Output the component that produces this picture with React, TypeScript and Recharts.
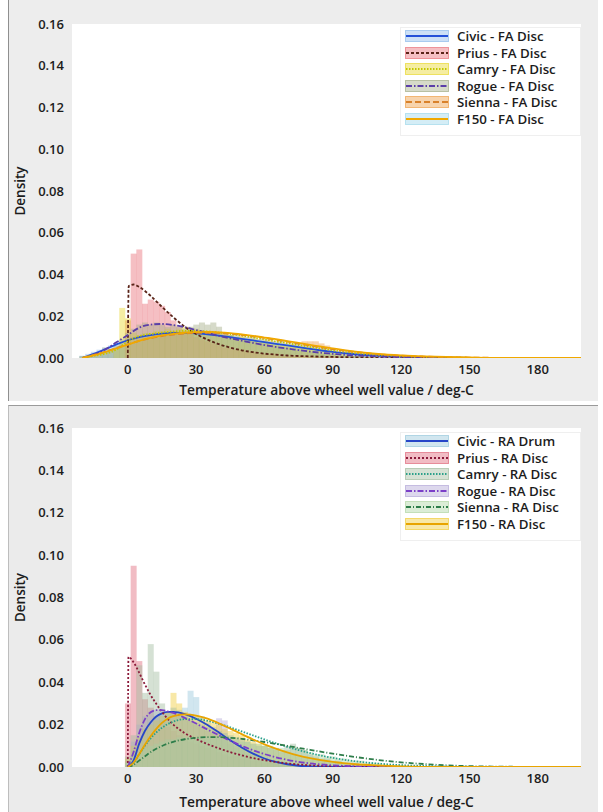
import React from 'react';
import { ComposedChart, Bar, Line, XAxis, YAxis, CartesianGrid, Legend, Label } from 'recharts';

// ---------- axes ----------
const X_DOMAIN: [number, number] = [-24.5, 199];
const X_TICKS = [0, 30, 60, 90, 120, 150, 180];
const Y_TICKS = [0, 0.02, 0.04, 0.06, 0.08, 0.1, 0.12, 0.14, 0.16];
const X_TITLE = 'Temperature above wheel well value / deg-C';
const Y_TITLE = 'Density';
const BIN_WIDTH = 2.5;
const GRID_START = -20;
const GRID_END = 200;

// ---------- FA (front axle) panel ----------
const faNames = ['Civic - FA Disc', 'Prius - FA Disc', 'Camry - FA Disc', 'Rogue - FA Disc', 'Sienna - FA Disc', 'F150 - FA Disc'];
const faHistStart = [-20, -20, -20, -20, -20, -20];

const faCivicHist = [
  0.001, 0.002, 0.003, 0.004, 0.005, 0.006, 0.007, 0.007,
  0.009, 0.010, 0.010, 0.011, 0.011, 0.012, 0.012, 0.012,
  0.013, 0.012, 0.012, 0.013, 0.012, 0.012, 0.011, 0.012,
  0.011, 0.010, 0.010, 0.010, 0.009, 0.009, 0.008, 0.008,
  0.008, 0.007, 0.007, 0.006, 0.006, 0.006, 0.005, 0.005,
  0.005, 0.004, 0.004, 0.003, 0.003, 0.002, 0.002, 0.002,
  0.002, 0.001, 0.001, 0.001, 0.001, 0.001, 0.0005, 0.0005, 0.0005,
];
const faPriusHist = [
  0, 0, 0, 0, 0, 0, 0, 0,
  0.018, 0.050, 0.052, 0.026, 0.028, 0.027, 0.025, 0.022,
  0.018, 0.015, 0.013, 0.011, 0.010, 0.009, 0.008, 0.007,
  0.006, 0.005, 0.005, 0.004, 0.004, 0.003, 0.003, 0.002,
  0.002, 0.002, 0.002, 0.001, 0.001, 0.001, 0.001, 0.001,
  0.0005, 0.0005, 0.0005, 0.0005, 0.0005,
];
const faCamryHist = [
  0, 0, 0, 0, 0, 0, 0.004, 0.024,
  0.019, 0.012, 0.011, 0.012, 0.012, 0.013, 0.013, 0.014,
  0.013, 0.014, 0.015, 0.014, 0.014, 0.013, 0.013, 0.012,
  0.012, 0.011, 0.011, 0.010, 0.010, 0.009, 0.009, 0.008,
  0.008, 0.007, 0.007, 0.006, 0.006, 0.006, 0.005, 0.005,
  0.005, 0.004, 0.004, 0.003, 0.003, 0.002, 0.002, 0.001,
  0.001, 0.001, 0.0005, 0.0005,
];
const faRogueHist = [
  0.001, 0.001, 0.002, 0.003, 0.005, 0.004, 0.006, 0.009,
  0.012, 0.014, 0.016, 0.017, 0.016, 0.017, 0.016, 0.015,
  0.016, 0.015, 0.014, 0.015, 0.016, 0.017, 0.016, 0.017,
  0.015, 0.012, 0.011, 0.010, 0.009, 0.008, 0.008, 0.007,
  0.007, 0.006, 0.006, 0.005, 0.005, 0.004, 0.004, 0.004,
  0.003, 0.003, 0.002, 0.002, 0.002, 0.001, 0.001, 0.001,
  0.001, 0.0005, 0.0005,
];
const faSiennaHist = [
  0.0005, 0.001, 0.001, 0.002, 0.003, 0.003, 0.004, 0.005,
  0.006, 0.007, 0.008, 0.009, 0.009, 0.010, 0.010, 0.011,
  0.011, 0.012, 0.012, 0.012, 0.013, 0.012, 0.012, 0.013,
  0.012, 0.012, 0.011, 0.011, 0.011, 0.010, 0.010, 0.009,
  0.009, 0.009, 0.008, 0.008, 0.007, 0.007, 0.007, 0.008,
  0.008, 0.008, 0.007, 0.006, 0.004, 0.003, 0.003, 0.003,
  0.002, 0.002, 0.002, 0.002, 0.002, 0.001, 0.001, 0.001,
  0.001, 0.001, 0.001, 0.0008, 0.0008, 0.0006, 0.0005, 0.0005,
];
const faF150Hist = [
  0.001, 0.001, 0.002, 0.002, 0.003, 0.004, 0.005, 0.006,
  0.007, 0.008, 0.009, 0.010, 0.010, 0.011, 0.011, 0.012,
  0.012, 0.012, 0.013, 0.013, 0.013, 0.013, 0.012, 0.012,
  0.012, 0.011, 0.011, 0.011, 0.010, 0.010, 0.010, 0.009,
  0.009, 0.008, 0.008, 0.008, 0.007, 0.007, 0.007, 0.006,
  0.006, 0.005, 0.005, 0.004, 0.004, 0.003, 0.003, 0.003,
  0.002, 0.002, 0.002, 0.002, 0.001, 0.001, 0.001, 0.001,
  0.001, 0.001, 0.0008, 0.0008, 0.0006, 0.0005, 0.0005, 0.0005,
];

const faKdeX = [
  -20, -15, -10, -5,
  0, 5, 10, 15, 20, 25, 30, 35, 40, 45, 50, 55, 60, 65, 70, 75, 80, 85, 90, 95, 100,
  110, 120, 130, 140, 150, 160, 170, 180, 190,
  199,
];
const faCivicKde = [
  0, 0.002, 0.0042, 0.0065,
  0.0085, 0.0100, 0.0110, 0.0117, 0.0120, 0.0120, 0.0118, 0.0113, 0.0107, 0.0100, 0.0092, 0.0084, 0.0076, 0.0068, 0.0060, 0.0052, 0.0044, 0.0036, 0.0029, 0.0023, 0.0018,
  0.0011, 0.0007, 0.0004, 0.0002, 0.0001, 0, 0, 0, 0,
  0,
];
const faCamryKde = [
  0, 0.001, 0.002, 0.004,
  0.008, 0.0105, 0.0115, 0.0122, 0.0127, 0.013, 0.013, 0.0127, 0.0122, 0.0115, 0.0107, 0.0098, 0.0089, 0.008, 0.0071, 0.0062, 0.0053, 0.0045, 0.0037, 0.003, 0.0024,
  0.0014, 0.0008, 0.0004, 0.0002, 0.0001, 0, 0, 0, 0,
  0,
];
const faRogueKde = [
  0, 0.0015, 0.004, 0.0075,
  0.011, 0.0145, 0.016, 0.0163, 0.0158, 0.0148, 0.0134, 0.012, 0.0106, 0.0094, 0.0083, 0.0072, 0.0062, 0.0053, 0.0045, 0.0038, 0.0031, 0.0025, 0.002, 0.0015, 0.0012,
  0.0007, 0.0004, 0.0002, 0.0001, 0, 0, 0, 0, 0,
  0,
];
const faSiennaKde = [
  0, 0.0015, 0.003, 0.0048,
  0.0065, 0.0082, 0.0095, 0.0105, 0.0112, 0.0117, 0.012, 0.0121, 0.012, 0.0116, 0.0111, 0.0104, 0.0096, 0.0087, 0.0078, 0.0069, 0.006, 0.0051, 0.0043, 0.0035, 0.0029,
  0.0018, 0.0011, 0.0007, 0.0004, 0.0002, 0.0001, 0, 0, 0,
  0,
];
const faF150Kde = [
  0, 0.0012, 0.0028, 0.0046,
  0.0064, 0.0082, 0.0097, 0.0108, 0.0116, 0.0121, 0.0124, 0.0125, 0.0123, 0.0119, 0.0113, 0.0106, 0.0098, 0.009, 0.0081, 0.0072, 0.0063, 0.0054, 0.0046, 0.0038, 0.0031,
  0.002, 0.0013, 0.0008, 0.0005, 0.0003, 0.0001, 0.0001, 0, 0,
  0,
];
const faPriusKdeX = [0, 0.4, 2.5, 5, 10, 15, 20, 25, 30, 35, 40, 45, 50, 55, 60, 65, 70, 80, 90, 100, 110, 120, 130, 140, 150, 175, 199];
const faPriusKde = [0, 0.0345, 0.0352, 0.034, 0.0298, 0.0245, 0.0195, 0.015, 0.0115, 0.0088, 0.0066, 0.005, 0.0037, 0.0028, 0.0021, 0.0016, 0.0012, 0.0008, 0.0005, 0.0003, 0.0002, 0.0001, 0, 0, 0, 0, 0];

const faLineColors = ['#2350d8', '#5a2418', '#c3c800', '#5b3ea8', '#d9822b', '#f0a800'];
const faFillColors = ['#8fbbea', '#e8727a', '#e8d830', '#a3ad88', '#eea04a', '#9fd8ea'];
const faDashes = ['', '3 2', '1.5 1.5', '6 2 1.5 2', '6 3', ''];
const faBarOrder = [4, 0, 5, 1, 2, 3];

// ---------- RA (rear axle) panel ----------
const raNames = ['Civic - RA Drum', 'Prius - RA Disc', 'Camry - RA Disc', 'Rogue - RA Disc', 'Sienna - RA Disc', 'F150 - RA Disc'];
const raHistStart = [0, 0, 0, 0, 0, 0];

const raCivicHist = [
  0.002, 0.008, 0.014, 0.018, 0.022, 0.024, 0.025, 0.026,
  0.026, 0.027, 0.028, 0.036, 0.033, 0.024, 0.021, 0.019,
  0.016, 0.013, 0.011, 0.009, 0.008, 0.006, 0.005, 0.004,
  0.003, 0.002, 0.002, 0.001, 0.001, 0.0005, 0.0005,
];
const raPriusHist = [
  0.030, 0.095, 0.050, 0.032, 0.028, 0.024, 0.022, 0.019,
  0.017, 0.015, 0.013, 0.012, 0.011, 0.010, 0.009, 0.008,
  0.007, 0.006, 0.005, 0.005, 0.004, 0.004, 0.003, 0.003,
  0.002, 0.002, 0.002, 0.001, 0.001, 0.001, 0.0005, 0.0005,
];
const raCamryHist = [
  0.005, 0.015, 0.048, 0.035, 0.058, 0.045, 0.030, 0.026,
  0.028, 0.026, 0.024, 0.022, 0.021, 0.020, 0.019, 0.018,
  0.017, 0.016, 0.015, 0.014, 0.013, 0.012, 0.011, 0.010,
  0.010, 0.009, 0.009, 0.008, 0.010, 0.011, 0.009, 0.008,
  0.006, 0.005, 0.004, 0.004, 0.003, 0.003, 0.002, 0.002,
  0.002, 0.001, 0.001, 0.001, 0.0005,
];
const raRogueHist = [
  0.003, 0.012, 0.020, 0.024, 0.026, 0.027, 0.027, 0.026,
  0.025, 0.024, 0.023, 0.022, 0.020, 0.019, 0.017, 0.016,
  0.023, 0.022, 0.012, 0.010, 0.009, 0.007, 0.006, 0.005,
  0.004, 0.003, 0.003, 0.002, 0.002, 0.001, 0.001, 0.0005,
];
const raSiennaHist = [
  0.002, 0.005, 0.007, 0.009, 0.010, 0.011, 0.012, 0.013,
  0.013, 0.014, 0.014, 0.014, 0.014, 0.014, 0.014, 0.014,
  0.014, 0.013, 0.013, 0.013, 0.012, 0.012, 0.011, 0.011,
  0.010, 0.010, 0.009, 0.009, 0.008, 0.010, 0.009, 0.008,
  0.007, 0.006, 0.006, 0.005, 0.005, 0.004, 0.004, 0.003,
  0.003, 0.003, 0.002, 0.002, 0.002, 0.001, 0.001, 0.001, 0.001,
];
const raF150Hist = [
  0.004, 0.010, 0.014, 0.018, 0.020, 0.022, 0.024, 0.026,
  0.035, 0.030, 0.026, 0.025, 0.024, 0.023, 0.022, 0.021,
  0.020, 0.018, 0.017, 0.016, 0.015, 0.013, 0.012, 0.011,
  0.010, 0.009, 0.008, 0.007, 0.007, 0.006, 0.005, 0.005,
  0.004, 0.004, 0.003, 0.003, 0.002, 0.002, 0.002, 0.001, 0.001,
];

const raKdeX = [
  0, 2.5, 5, 7.5, 10, 12.5, 15, 17.5, 20,
  25, 30, 35, 40, 45, 50, 55, 60, 65, 70, 75, 80,
  90, 100, 110, 120, 130, 140, 150, 160, 170, 180, 190, 199,
];
const raCivicKde = [
  0, 0.003, 0.011, 0.017, 0.021, 0.0238, 0.0253, 0.026, 0.026,
  0.025, 0.0228, 0.0198, 0.0163, 0.0126, 0.0092, 0.0063, 0.004, 0.0024, 0.0013, 0.0006, 0.0003,
  0.0001, 0, 0, 0, 0, 0, 0, 0, 0, 0, 0, 0,
];
const raCamryKde = [
  0, 0.002, 0.006, 0.01, 0.0135, 0.0163, 0.0185, 0.0202, 0.0214,
  0.0226, 0.0226, 0.0218, 0.0204, 0.0187, 0.0168, 0.0149, 0.013, 0.0112, 0.0095, 0.008, 0.0066,
  0.0043, 0.0027, 0.0016, 0.0009, 0.0005, 0.0002, 0.0001, 0, 0, 0, 0, 0,
];
const raRogueKde = [
  0, 0.007, 0.016, 0.0225, 0.0258, 0.0268, 0.0268, 0.0263, 0.0255,
  0.0232, 0.0205, 0.0177, 0.015, 0.0124, 0.01, 0.0079, 0.0061, 0.0046, 0.0034, 0.0024, 0.0017,
  0.0008, 0.0003, 0.0001, 0, 0, 0, 0, 0, 0, 0, 0, 0,
];
const raSiennaKde = [
  0, 0.001, 0.003, 0.005, 0.007, 0.0086, 0.0099, 0.011, 0.0119,
  0.0131, 0.0138, 0.0141, 0.0141, 0.0138, 0.0133, 0.0126, 0.0118, 0.0109, 0.01, 0.009, 0.0081,
  0.0063, 0.0047, 0.0033, 0.0022, 0.0014, 0.0008, 0.0004, 0.0002, 0.0001, 0, 0, 0,
];
const raF150Kde = [
  0, 0.002, 0.006, 0.0105, 0.0145, 0.018, 0.0208, 0.0228, 0.024,
  0.0248, 0.0243, 0.0228, 0.0206, 0.0181, 0.0155, 0.013, 0.0107, 0.0087, 0.0069, 0.0054, 0.0042,
  0.0024, 0.0013, 0.0007, 0.0003, 0.0001, 0, 0, 0, 0, 0, 0, 0,
];
const raPriusKdeX = [0, 0.3, 2.5, 5, 7.5, 10, 12.5, 15, 20, 25, 30, 35, 40, 45, 50, 55, 60, 70, 80, 90, 100, 110, 120, 140, 160, 180, 199];
const raPriusKde = [0, 0.052, 0.0495, 0.0445, 0.039, 0.034, 0.0298, 0.026, 0.02, 0.016, 0.0132, 0.0108, 0.0088, 0.007, 0.0055, 0.0042, 0.0032, 0.0017, 0.0008, 0.0004, 0.0002, 0.0001, 0, 0, 0, 0, 0];

const raLineColors = ['#2746c8', '#8b1a3a', '#2aa08a', '#7b3fc8', '#2e7d4a', '#e8a400'];
const raFillColors = ['#98c8dc', '#e06a7c', '#a2bca0', '#b3a8d8', '#b0d6a4', '#f0cc3c'];
const raDashes = ['', '2 2', '1.5 1.5', '6 2 1.5 2', '5 2 1 2', ''];
const raBarOrder = [1, 0, 3, 5, 4, 2];

// ---------- helpers ----------
type Series = {
  name: string;
  histStart: number;
  hist: number[];
  kdeX: number[];
  kde: number[];
  line: string;
  fill: string;
  dash: string;
};

function makeSeries(
  names: string[], starts: number[], hists: number[][], kdeXs: number[][], kdes: number[][],
  lines: string[], fills: string[], dashes: string[],
): Series[] {
  return names.map((name, i) => ({
    name, histStart: starts[i], hist: hists[i], kdeX: kdeXs[i], kde: kdes[i],
    line: lines[i], fill: fills[i], dash: dashes[i],
  }));
}

const faSeries = makeSeries(
  faNames, faHistStart,
  [faCivicHist, faPriusHist, faCamryHist, faRogueHist, faSiennaHist, faF150Hist],
  [faKdeX, faPriusKdeX, faKdeX, faKdeX, faKdeX, faKdeX],
  [faCivicKde, faPriusKde, faCamryKde, faRogueKde, faSiennaKde, faF150Kde],
  faLineColors, faFillColors, faDashes,
);
const raSeries = makeSeries(
  raNames, raHistStart,
  [raCivicHist, raPriusHist, raCamryHist, raRogueHist, raSiennaHist, raF150Hist],
  [raKdeX, raPriusKdeX, raKdeX, raKdeX, raKdeX, raKdeX],
  [raCivicKde, raPriusKde, raCamryKde, raRogueKde, raSiennaKde, raF150Kde],
  raLineColors, raFillColors, raDashes,
);

function buildRows(series: Series[]) {
  const rows: Record<string, number>[] = [];
  const n = Math.round((GRID_END - GRID_START) / BIN_WIDTH);
  for (let i = 0; i <= n; i++) {
    const x = GRID_START + i * BIN_WIDTH;
    const row: Record<string, number> = { x };
    series.forEach((s, k) => {
      const j = Math.round((x - s.histStart) / BIN_WIDTH);
      row['h' + k] = j >= 0 && j < s.hist.length ? s.hist[j] : 0;
    });
    rows.push(row);
  }
  return rows;
}

const FONT = "'Open Sans', 'DejaVu Sans', sans-serif";
const tickStyle = { fontSize: 13, fontWeight: 600, fill: '#1c1c1c', fontFamily: FONT };

function LegendBox({ series }: { series: Series[] }) {
  return (
    <div
      style={{
        background: '#ffffff',
        border: '1px solid #efefef',
        padding: '0 4px 8px 4px',
        fontFamily: FONT,
        fontSize: 13.3,
        fontWeight: 600,
        color: '#1c1c1c',
      }}
    >
      {series.map((s) => (
        <div key={s.name} style={{ display: 'flex', alignItems: 'center', height: 16.5 }}>
          <svg width={44} height={14} style={{ marginRight: 8, flex: 'none' }}>
            <rect x={0.5} y={1.5} width={43} height={11} fill={s.fill} fillOpacity={0.45} stroke={s.fill} strokeOpacity={0.7} />
            <line x1={1} x2={43} y1={7} y2={7} stroke={s.line} strokeWidth={1.8} strokeDasharray={s.dash || undefined} />
          </svg>
          <span style={{ whiteSpace: 'nowrap', lineHeight: '16px' }}>{s.name}</span>
        </div>
      ))}
    </div>
  );
}

function Panel({ series, barOrder, height, xAxisHeight, legendTop }: { series: Series[]; barOrder: number[]; height: number; xAxisHeight: number; legendTop: number }) {
  const rows = buildRows(series);
  return (
    <ComposedChart width={590} height={height} data={rows} margin={{ top: 24, right: 17, left: 0, bottom: 0 }} barCategoryGap={0} barGap={0}>
      <CartesianGrid horizontal={false} vertical={false} fill="#ffffff" />
      <XAxis
        dataKey="x"
        type="number"
        domain={X_DOMAIN}
        ticks={X_TICKS}
        allowDataOverflow
        axisLine={false}
        tickLine={false}
        tickSize={4}
        tickMargin={3}
        height={xAxisHeight}
        tick={tickStyle}
      >
        <Label value={X_TITLE} position="insideBottom" offset={5} style={{ ...tickStyle, fontSize: 13.8 }} />
      </XAxis>
      {series.map((_, k) => (
        <XAxis key={'ax' + k} xAxisId={'h' + k} dataKey="x" type="number" domain={X_DOMAIN} allowDataOverflow hide />
      ))}
      <YAxis
        type="number"
        domain={[0, 0.16]}
        ticks={Y_TICKS}
        allowDataOverflow
        axisLine={false}
        tickLine={false}
        width={64}
        tickFormatter={(v: number) => v.toFixed(2)}
        tick={tickStyle}
      >
        <Label value={Y_TITLE} angle={-90} position="insideLeft" offset={12} style={{ ...tickStyle, fontSize: 13.5, textAnchor: 'middle' }} />
      </YAxis>
      {barOrder.map((k) => (
        <Bar
          key={'b' + k}
          xAxisId={'h' + k}
          dataKey={'h' + k}
          fill={series[k].fill}
          fillOpacity={0.45}
          isAnimationActive={false}
          legendType="none"
        />
      ))}
      {series.map((s, k) => (
        <Line
          key={'l' + k}
          data={s.kdeX.map((x, i) => ({ x, y: s.kde[i] }))}
          dataKey="y"
          name={s.name}
          type="monotone"
          stroke={s.line}
          strokeWidth={1.8}
          strokeDasharray={s.dash || undefined}
          dot={false}
          activeDot={false}
          isAnimationActive={false}
        />
      ))}
      <Legend
        layout="horizontal"
        verticalAlign="middle"
        align="center"
        wrapperStyle={{ left: 392, top: legendTop, width: 181, height: 'auto' }}
        content={() => <LegendBox series={series} />}
      />
    </ComposedChart>
  );
}

export default function App() {
  return (
    <div style={{ position: 'absolute', left: 0, top: 0, width: 603, height: 812, background: '#ffffff', overflow: 'hidden' }}>
      <div style={{ position: 'absolute', left: 8, top: 0, width: 590, height: 401, background: '#ededed', borderLeft: '1px solid #8f8f8f', boxSizing: 'border-box' }} />
      <div style={{ position: 'absolute', left: 8, top: 0 }}>
        <Panel series={faSeries} barOrder={faBarOrder} height={400} xAxisHeight={42} legendTop={27} />
      </div>
      <div style={{ position: 'absolute', left: 8, top: 405, width: 590, height: 407, background: '#ebebeb', borderTop: '1px solid #9a9a9a', borderLeft: '1px solid #bdbdbd', boxSizing: 'border-box' }} />
      <div style={{ position: 'absolute', left: 8, top: 404 }}>
        <Panel series={raSeries} barOrder={raBarOrder} height={408} xAxisHeight={45} legendTop={28} />
      </div>
    </div>
  );
}
